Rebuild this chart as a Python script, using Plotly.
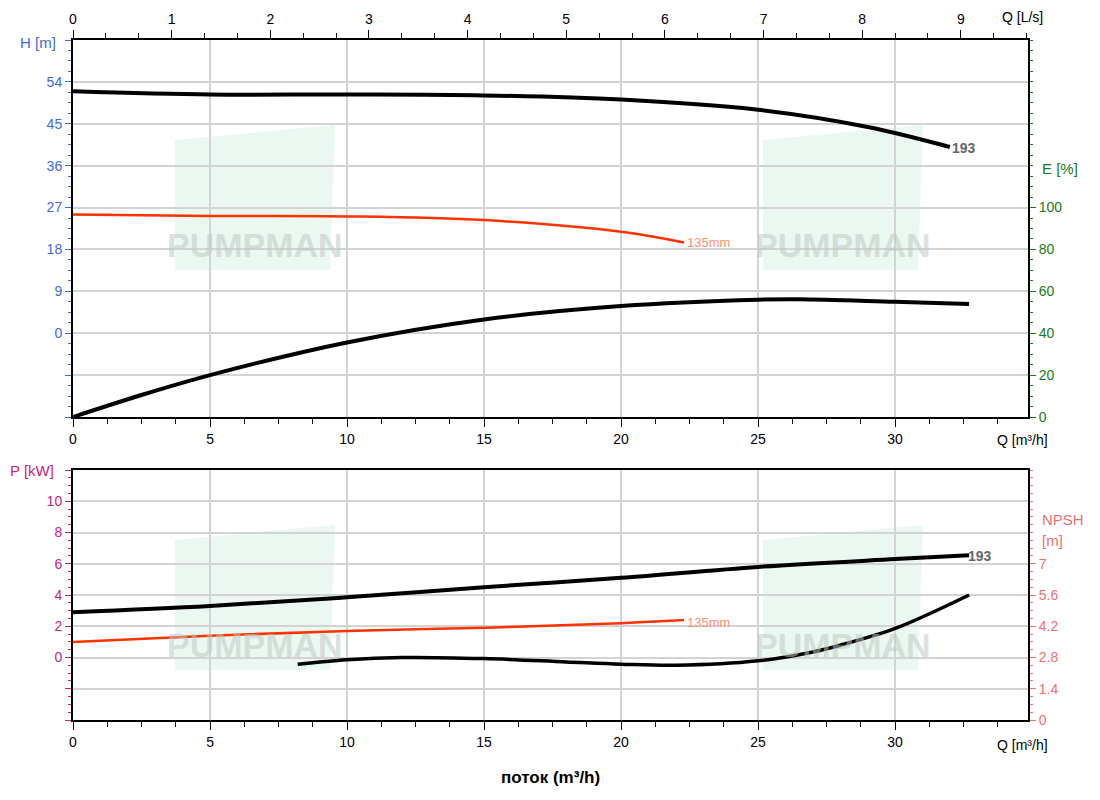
import plotly.graph_objects as go

# ---- data ----
q_h193 = [0, 5, 10, 15, 20, 25, 29, 32]
h_193 = [52, 51.3, 51.3, 51.1, 50.2, 48, 44.3, 40]
q_h135 = [0, 5, 10, 15, 20, 22.3]
h_135 = [25.5, 25.2, 25.1, 24.3, 21.8, 19.5]
q_eff = [0, 2.5, 5, 10, 15, 20, 25, 26.5, 30, 32.7]
eff = [0, 10.5, 20, 35.6, 46.6, 53, 56, 56.2, 55, 54]
q_p193 = [0, 5, 10, 15, 20, 25, 30, 32.7]
p_193 = [2.9, 3.3, 3.85, 4.5, 5.1, 5.8, 6.3, 6.55]
q_p135 = [0, 5, 10, 15, 20, 22.3]
p_135 = [1.0, 1.4, 1.7, 1.9, 2.2, 2.4]
q_npsh = [8.2, 10, 12, 15, 18, 20, 22, 25, 27, 28, 30, 32.7]
npsh = [2.5, 2.7, 2.8, 2.75, 2.6, 2.5, 2.45, 2.65, 3.05, 3.35, 4.1, 5.6]

Q_MAX = 34.85
H_TICKS = [-18, -9, 0, 9, 18, 27, 36, 45, 54, 63]
P_TICKS = [-4, -2, 0, 2, 4, 6, 8, 10, 12]

BLUE = "#4169e1"; GREEN = "#1a7a1a"; MAG = "#cc2277"; SAL = "#f07070"; RED = "#ff3300"

OFF = 8  # page body margin
FW, FH = 1100 - 2 * OFF, 800 - 2 * OFF
L, R, T, B = 73, 1028, 40, 720  # target pixel positions in the window
W, H = R - L, B - T

def fxp(x): return (x - L) / W
def fyp(y): return (B - y) / H

fig = go.Figure()
fig.add_trace(go.Scatter(x=q_h193, y=h_193, mode="lines", line=dict(color="black", width=4, shape="spline"), xaxis="x", yaxis="y"))
fig.add_trace(go.Scatter(x=q_h135, y=h_135, mode="lines", line=dict(color=RED, width=2.5, shape="spline"), xaxis="x", yaxis="y"))
fig.add_trace(go.Scatter(x=q_eff, y=eff, mode="lines", line=dict(color="black", width=4, shape="spline"), xaxis="x", yaxis="y2"))
fig.add_trace(go.Scatter(x=[0, 9], y=[None, None], mode="lines", xaxis="x2", yaxis="y", hoverinfo="skip"))
fig.add_trace(go.Scatter(x=q_p193, y=p_193, mode="lines", line=dict(color="black", width=4, shape="spline"), xaxis="x3", yaxis="y3"))
fig.add_trace(go.Scatter(x=q_p135, y=p_135, mode="lines", line=dict(color=RED, width=2.5, shape="spline"), xaxis="x3", yaxis="y3"))
fig.add_trace(go.Scatter(x=q_npsh, y=npsh, mode="lines", line=dict(color="black", width=3.5, shape="spline"), xaxis="x3", yaxis="y4"))

top_d = [fyp(417), 1]
bot_d = [0, fyp(470)]
tf = dict(family="Arial", size=14)
common_x = dict(range=[0, Q_MAX], showline=True, linecolor="black", linewidth=2, ticks="outside",
                ticklen=8, tickcolor="black", tickfont=dict(tf, color="black"),
                showgrid=True, gridcolor="#d3d3d3", gridwidth=1.5, zeroline=False, automargin=False,
                minor=dict(dtick=1.25, tick0=0, ticks="outside", ticklen=5, tickcolor="black", showgrid=False),
                tickvals=[0, 5, 10, 15, 20, 25, 30], domain=[0, 1])

fig.update_layout(
    width=FW, height=FH, margin=dict(l=L - OFF, r=FW - (R - OFF), t=T - OFF, b=FH - (B - OFF), autoexpand=False),
    showlegend=False, plot_bgcolor="white", paper_bgcolor="white", font=tf,
    xaxis=dict(common_x, anchor="y"),
    xaxis2=dict(range=[0, Q_MAX/3.6], overlaying="x", side="top", anchor="y", showline=True, linecolor="black",
                linewidth=2, ticks="outside", ticklen=8, tickcolor="black", tickvals=list(range(10)),
                tickfont=dict(tf, color="black"), showgrid=False, zeroline=False, automargin=False,
                minor=dict(dtick=1/3, tick0=0, ticks="outside", ticklen=5, tickcolor="black")),
    yaxis=dict(domain=top_d, range=[-18, 63], tickvals=H_TICKS, ticktext=["" if v < 0 or v > 54 else str(v) for v in H_TICKS],
               showline=True, linecolor="black", linewidth=2, ticks="outside", ticklen=6, tickcolor=BLUE,
               tickfont=dict(tf, color=BLUE), showgrid=True, gridcolor="#d3d3d3", gridwidth=1.5, zeroline=False,
               automargin=False, minor=dict(dtick=2.25, tick0=0, ticks="outside", ticklen=3, tickcolor=BLUE)),
    yaxis2=dict(range=[0, 180], overlaying="y", side="right", anchor="x", tickvals=[0, 20, 40, 60, 80, 100],
                showline=True, linecolor="black", linewidth=2, ticks="outside", ticklen=6, tickcolor=GREEN,
                tickfont=dict(tf, color=GREEN), showgrid=False, zeroline=False, automargin=False,
                minor=dict(dtick=5, tick0=0, ticks="outside", ticklen=3, tickcolor=GREEN)),
    xaxis3=dict(common_x, anchor="y3", mirror=True),
    yaxis3=dict(domain=bot_d, range=[-4, 12], tickvals=P_TICKS, ticktext=["" if v < 0 or v > 10 else str(v) for v in P_TICKS],
                showline=True, linecolor="black", linewidth=2, ticks="outside", ticklen=6, tickcolor=MAG,
                tickfont=dict(tf, color=MAG), showgrid=True, gridcolor="#d3d3d3", gridwidth=1.5, zeroline=False,
                automargin=False, minor=dict(dtick=0.5, tick0=0, ticks="outside", ticklen=3, tickcolor=MAG)),
    yaxis4=dict(range=[0, 11.2], overlaying="y3", side="right", anchor="x3", tickvals=[0, 1.4, 2.8, 4.2, 5.6, 7],
                ticktext=["0", "1.4", "2.8", "4.2", "5.6", "7"],
                showline=True, linecolor="black", linewidth=2, ticks="outside", ticklen=6, tickcolor=SAL,
                tickfont=dict(tf, color=SAL), showgrid=False, zeroline=False, automargin=False,
                minor=dict(dtick=0.35, tick0=0, ticks="outside", ticklen=3, tickcolor=SAL)),
)

def px(x, y, text, color, size=14, xa="left", ya="middle", bold=False):
    fig.add_annotation(x=fxp(x), y=fyp(y), xref="paper", yref="paper", text=f"<b>{text}</b>" if bold else text,
                       showarrow=False, xanchor=xa, yanchor=ya, font=dict(family="Arial", size=size, color=color))

# watermarks
for cx, cy in [(255, 200), (843, 200), (255, 600), (843, 600)]:
    fig.add_shape(type="path", xref="paper", yref="paper",
                  path=f"M {fxp(cx-80)},{fyp(cy-60)} L {fxp(cx+80)},{fyp(cy-75)} L {fxp(cx+75)},{fyp(cy+70)} L {fxp(cx-80)},{fyp(cy+70)} Z",
                  fillcolor="rgba(120,200,160,0.15)", line_width=0, layer="below")
    px(cx, cy+45, "PUMPMAN", "rgba(190,200,195,0.55)", size=34, xa="center", bold=True)

px(18, 43, "H [m]", BLUE, 15)
px(1000, 17, "Q [L/s]", "black", 14)
px(1040, 168, "E [%]", GREEN, 15)
px(995, 440, "Q [m³/h]", "black", 14)
px(995, 745, "Q [m³/h]", "black", 14)
px(8, 470, "P [kW]", MAG, 15)
px(1040, 520, "NPSH", SAL, 15)
px(1040, 540, "[m]", SAL, 15)
px(950, 148, "193", "#666666", 14, bold=True)
px(966, 556, "193", "#666666", 14, bold=True)
px(685, 242, "135mm", "#ff9070", 13)
px(685, 622, "135mm", "#ff9070", 13)
px(550, 777, "поток (m³/h)", "black", 17, xa="center", bold=True)

fig.write_html("out.html")
